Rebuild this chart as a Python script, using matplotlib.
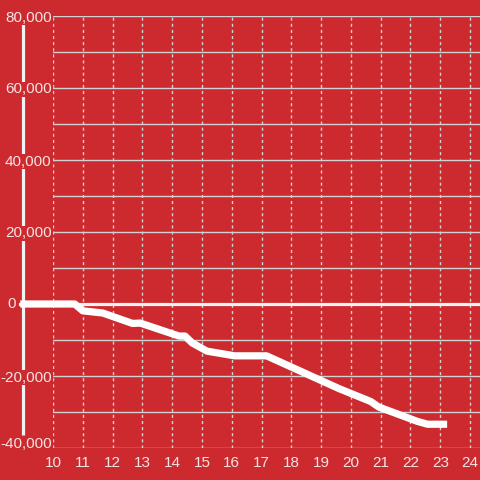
import matplotlib.pyplot as plt
from matplotlib.ticker import FuncFormatter
from matplotlib.transforms import ScaledTranslation

# data
x_vals = [8.9, 10.73, 11.0, 11.67, 12.67, 12.93, 14.23, 14.43, 14.67, 15.17,
          16.1, 17.17, 19.6, 20.67, 20.93, 22.23, 22.57, 23.23]
y_vals = [0, 0, -1900, -2500, -5400, -5300, -8900, -8900, -10800, -13100,
          -14400, -14400, -23500, -27100, -28600, -32600, -33400, -33400]
x_ticks = list(range(10, 25))
y_ticks = [-40000, -20000, 0, 20000, 40000, 60000, 80000]
y_minor = [-30000, -10000, 10000, 30000, 50000, 70000]

bg = '#cc2a2f'
grid_c = '#d2d2d2'
text_c = '#f4e4e4'

plt.rcParams['font.family'] = ['Liberation Sans', 'DejaVu Sans']

fig = plt.figure(figsize=(4.8, 4.8), dpi=100, facecolor=bg)
# axes spans x 53..480 px, y 16..448 px
ax = fig.add_axes([53 / 480, 32 / 480, 427 / 480, 432 / 480])
ax.set_facecolor(bg)

x_left = 10 + (53 - 50) / 30
x_right = 10 + (480 - 50) / 30
ax.set_xlim(x_left, x_right)
ax.set_ylim(-40000, 80000)

ax.set_xticks(x_ticks)
ax.set_yticks(y_ticks)
ax.set_yticks(y_minor, minor=True)
# the "0" label is placed by hand further left, clear of the zero line
ax.yaxis.set_major_formatter(FuncFormatter(lambda v, p: '' if v == 0 else f'{int(v):,}'))

ax.grid(axis='y', which='both', color=grid_c, linewidth=1.0)
ax.grid(axis='x', color=grid_c, linewidth=1.0, linestyle=(0, (2.2, 2.2)))
ax.set_axisbelow(True)

ax.tick_params(axis='both', which='both', length=0, colors=text_c, labelsize=11)
ax.tick_params(axis='x', pad=6)
ax.tick_params(axis='y', pad=1)

# labels sit on a red patch so the axis bar breaks behind them
for v, lab in zip(y_ticks, ax.get_yticklabels()):
    lab.set_bbox(dict(facecolor=bg, edgecolor='none', pad=0.5))
    if v == -40000:
        lab.set_transform(lab.get_transform() + ScaledTranslation(0, 5 / 100, fig.dpi_scale_trans))

ax.annotate('0', xy=(x_left, 0), xycoords='data', xytext=(-40, 0),
            textcoords='offset pixels', ha='right', va='center',
            color=text_c, fontsize=11, annotation_clip=False, zorder=5)

for s in ax.spines.values():
    s.set_visible(False)

# y axis bar, set left of the plotting area
ax.plot([9.0, 9.0], [-36400, 77800], color='#f2f2f2', linewidth=2.3,
        solid_capstyle='butt', clip_on=False, zorder=0.3)
# zero line
ax.plot([8.9, x_right], [0, 0], color='#f2f2f2', linewidth=2.3,
        clip_on=False, zorder=3)
# data line
ax.plot(x_vals, y_vals, color='white', linewidth=5.2, solid_joinstyle='round',
        solid_capstyle='butt', clip_on=False, zorder=4)

fig.savefig('out.png', dpi=100, facecolor=bg)
